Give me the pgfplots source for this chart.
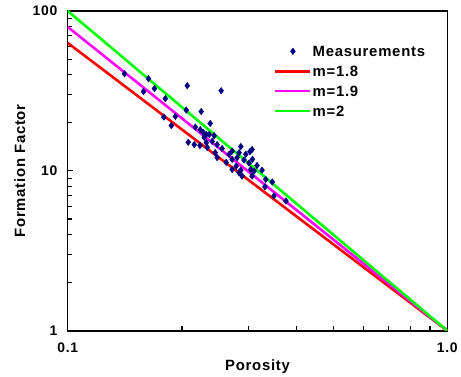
\documentclass[border=0pt]{standalone}
\usepackage{pgfplots}
\pgfplotsset{compat=1.18}
\usepackage{fontspec}
\setmainfont[LetterSpace=5]{Liberation Sans}
\definecolor{navy}{RGB}{0,0,128}
\definecolor{exred}{RGB}{255,0,0}
\definecolor{exmag}{RGB}{255,0,255}
\definecolor{exgreen}{RGB}{0,255,0}
\begin{document}
\begin{tikzpicture}
\begin{axis}[
  scale only axis,
  width=381bp, height=321bp,
  xmode=log, ymode=log,
  xmin=0.1, xmax=1, ymin=1, ymax=100,
  xtick={0.1,1}, xticklabels={0.1,1.0},
  ytick={1,10,100}, yticklabels={1,10,100},
  minor xtick={0.2,0.3,0.4,0.5,0.6,0.7,0.8,0.9},
  minor ytick={2,3,4,5,6,7,8,9,20,30,40,50,60,70,80,90},
  xminorticks=true, yminorticks=true,
  tick pos=left, tick align=inside,
  major tick length=5bp, minor tick length=4.5bp,
  every tick/.style={black, line width=1.1bp},
  every minor tick/.style={black, line width=1.1bp},
  axis line style={line width=1.5bp},
  ticklabel style={font=\fontsize{14}{16}\selectfont\bfseries},
  xticklabel style={yshift=-9bp},
  yticklabel style={xshift=-7bp},
  /pgf/number format/assume math mode=true,
  xlabel={Porosity}, ylabel={Formation Factor},
  every axis x label/.style={at={(rel axis cs:0.5,0)}, anchor=center, yshift=-36bp, font=\fontsize{15}{17}\selectfont\bfseries},
  every axis y label/.style={at={(rel axis cs:-0.126,0.5)}, anchor=center, rotate=90, font=\fontsize{15}{17}\selectfont\bfseries},
  legend image code/.code={\draw[mark repeat=2,mark phase=2,#1] plot coordinates {(0bp,0bp) (17.5bp,0bp) (35bp,0bp)};},
  legend style={draw=none, fill=none, inner sep=0pt, at={(rel axis cs:0.5433,0.8931)}, anchor=north west,
    font=\fontsize{15}{17}\selectfont\bfseries, row sep=8bp,
    nodes={inner sep=1bp, text height=10bp, text depth=0bp}},
  legend cell align=left,
]
\addlegendimage{only marks, mark=diamond*, mark size=3.3bp, navy}
\addlegendentry{Measurements}
\addplot[exred, line width=2.6bp] coordinates {(0.1,63.0957) (1,1)};
\addlegendentry{m=1.8}
\addplot[exmag, line width=2.6bp] coordinates {(0.1,79.4328) (1,1)};
\addlegendentry{m=1.9}
\addplot[exgreen, line width=2.6bp] coordinates {(0.1,100) (1,1)};
\addlegendentry{m=2}
\addplot[only marks, mark=diamond*, mark size=3.3bp, navy, forget plot] table {
x y
0.1411 40.5
0.1632 37.7
0.2065 34.1
0.1692 32.7
0.2536 31.7
0.1583 31.3
0.1808 28.3
0.2052 24.0
0.2247 23.5
0.1921 21.9
0.1792 21.7
0.1875 19.2
0.2168 18.8
0.2234 18.1
0.2317 16.9
0.2077 15.1
0.2154 14.6
0.2230 14.4
0.2373 19.8
0.2275 17.4
0.2359 16.9
0.2289 16.2
0.2430 16.6
0.2317 15.0
0.2402 15.3
0.2475 14.6
0.2331 14.0
0.2446 13.0
0.2551 13.8
0.2662 12.7
0.2711 13.3
0.2857 14.2
0.3059 13.6
0.3020 13.2
0.2828 13.0
0.2944 12.7
0.2711 11.8
0.2614 11.3
0.2475 12.1
0.2794 12.1
0.2914 11.7
0.3004 11.2
0.3065 11.8
0.3152 10.8
0.2778 10.7
0.2711 10.2
0.2857 10.1
0.3034 10.2
0.3096 9.97
0.3250 10.1
0.3059 9.28
0.2880 9.28
0.2828 9.74
0.3323 8.85
0.3458 8.52
0.3309 7.95
0.3494 6.97
0.3757 6.48
};
\end{axis}
\path (-68bp,-46bp) rectangle (393bp,332bp);
\end{tikzpicture}
\end{document}
